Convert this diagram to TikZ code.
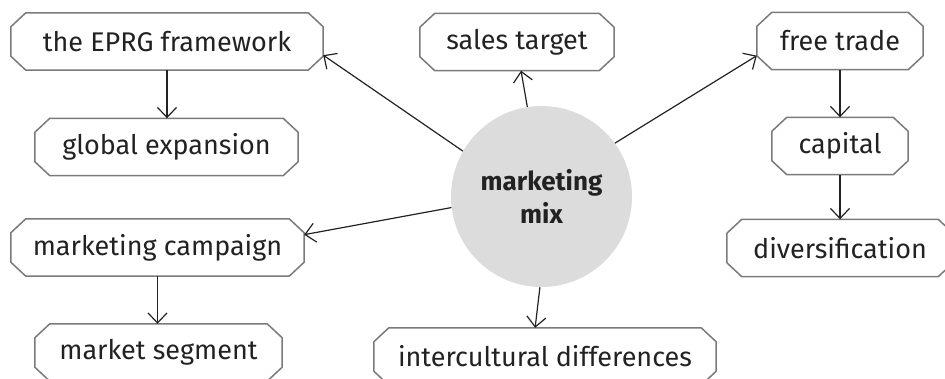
\documentclass[tikz,border=0pt]{standalone}
\usepackage{fontspec}
\setmainfont{Fira Sans}
\usetikzlibrary{arrows.meta}
\definecolor{boxline}{HTML}{7A7A7A}
\definecolor{ink}{HTML}{222222}
\definecolor{hub}{HTML}{DCDCDD}
\begin{document}
\begin{tikzpicture}[x=1pt,y=-1pt,
  term/.style={rectangle, text=ink, minimum height=57pt, inner sep=0pt,
    font=\fontsize{27}{30}\selectfont},
  octagon/.style={draw=boxline, line width=1.5pt, line join=miter},
  hubnode/.style={circle, fill=hub, minimum size=181pt, inner sep=0pt, text=ink, align=center,
    font=\fontsize{26}{33}\selectfont\bfseries},
  link/.style={draw=ink, line width=1.2pt, -{Straight Barb[length=10pt,width=19pt]}}]
\useasboundingbox (0,0) rectangle (945,379);

\node[hubnode] (mix) at (541.5,196.5) {marketing\\mix};

\node[term, minimum width=312pt] (eprg) at (167,41.5) {the EPRG framework};
\node[term, minimum width=263pt] (global) at (166.5,147) {global expansion};
\node[term, minimum width=194pt] (sales) at (517,42) {sales target};
\node[term, minimum width=166pt] (free) at (840,41) {free trade};
\node[term, minimum width=136pt] (capital) at (840,146) {capital};
\node[term, minimum width=226pt] (divers) at (840,248) {diversification};
\node[term, minimum width=293pt] (campaign) at (157.5,247.5) {marketing campaign};
\node[term, minimum width=247pt] (segment) at (158.5,352.5) {market segment};
\node[term, minimum width=342pt] (inter) at (545,356.5) {intercultural differences};

% octagonal outlines with cut corners
\foreach \n in {eprg,global,sales,free,capital,divers,campaign,segment,inter}{
  \draw[octagon]
    ([xshift=15pt]\n.north west) -- ([xshift=-15pt]\n.north east)
    -- ([yshift=-14pt]\n.north east) -- ([yshift=14pt]\n.south east)
    -- ([xshift=-15pt]\n.south east) -- ([xshift=15pt]\n.south west)
    -- ([yshift=14pt]\n.south west) -- ([yshift=-14pt]\n.north west) -- cycle;
}

\draw[link] (mix.150.3) -- (eprg.-5.6);
\draw[link] (mix.99.6) -- (sales.-82);
\draw[link] (mix.36.7) -- (free.-170.4);
\draw[link] (mix.187.6) -- (campaign.5.2);
\draw[link] (mix.-91.3) -- (inter.109.5);

\draw[link] (eprg.south) -- (eprg.south |- global.north);
\draw[link] (free.south) -- (free.south |- capital.north);
\draw[link] (capital.south) -- (capital.south |- divers.north);
\draw[link] (campaign.south) -- (campaign.south |- segment.north);
\end{tikzpicture}
\end{document}
